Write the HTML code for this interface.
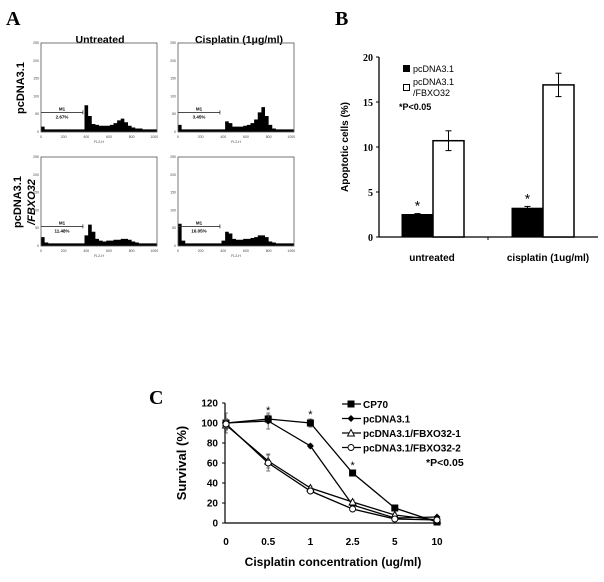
<!DOCTYPE html>
<html><head><meta charset="utf-8"><style>
body{margin:0;background:#fff}
svg text{font-family:"Liberation Sans",sans-serif}
</style></head><body>
<svg width="604" height="577" viewBox="0 0 604 577" xmlns="http://www.w3.org/2000/svg">
<g id="panelA">
<text x="6" y="25" font-family="Liberation Serif" font-weight="bold" font-size="20" style="font-family:'Liberation Serif',serif">A</text>
<text x="100" y="43" text-anchor="middle" font-weight="bold" font-size="10.5">Untreated</text>
<text x="239" y="43" text-anchor="middle" font-weight="bold" font-size="10.5">Cisplatin (1μg/ml)</text>
<text transform="translate(24,88) rotate(-90)" text-anchor="middle" font-weight="bold" font-size="11">pcDNA3.1</text>
<text transform="translate(21,202) rotate(-90)" text-anchor="middle" font-weight="bold" font-size="11">pcDNA3.1</text>
<text transform="translate(35,202) rotate(-90)" text-anchor="middle" font-weight="bold" font-style="italic" font-size="11">/FBXO32</text>
</g>
<g id="panelB"></g>
<g id="panelC"></g>
</svg>
<script>
// ---- Panel A data (histogram counts per 32-channel bin, % of axis height) ----
const histTL = [6,3,3,3,3,3,3,3,3,3,3,3,30,18,9,8,7,7,7,8,10,13,15,11,7,5,4,4,3,3,3,3];
const histTR = [8,3,3,3,3,3,3,3,3,3,3,3,3,12,10,6,6,6,7,8,10,14,22,28,18,8,4,3,3,3,3,3];
const histBL = [10,4,3,3,3,3,3,3,3,3,3,3,12,24,16,8,6,5,6,6,7,7,8,8,7,5,4,3,3,3,3,3];
const histBR = [25,6,3,3,3,3,3,3,3,3,3,3,6,16,14,8,7,7,8,8,9,10,12,12,10,5,4,3,3,3,3,3];
const histPct = ["2.67%","3.45%","11.48%","16.05%"];
const histAxisTicks = [0,200,400,600,800,1000];
const histYTicks = [0,50,100,150,200,250];
const m1End = 370;

// ---- Panel B data ----
const bCategories = ["untreated","cisplatin (1ug/ml)"];
const bControl = [2.5,3.2];
const bControlErr = [0.1,0.2];
const bFbxo = [10.7,16.9];
const bFbxoErr = [1.1,1.3];
const bTicks = [0,5,10,15,20];

// ---- Panel C data ----
const cCategories = ["0","0.5","1","2.5","5","10"];
const cCP70 = [100,104,100,50,15,1];
const cPcDNA = [100,102,77,18,5,6];
const cFbxo1 = [98,62,35,21,8,3];
const cFbxo2 = [99,60,32,14,4,3];
const cErr = [[4,4,4,3,2,1],[10,8,2,3,2,1],[5,7,2,2,2,1],[5,8,2,2,1,1]];
const cTicks = [0,20,40,60,80,100,120];
const cStars = [1,2,3];

const NS="http://www.w3.org/2000/svg";
function mk(parent,tag,attrs,text){const e=document.createElementNS(NS,tag);for(const k in attrs)e.setAttribute(k,attrs[k]);if(text!==undefined)e.textContent=text;parent.appendChild(e);return e;}

// Panel A histograms
const A=document.getElementById('panelA');
const boxes=[[41,43,histTL],[178,43,histTR],[41,157,histBL],[178,157,histBR]];
boxes.forEach((b,i)=>{
  const [x0,y0,h]=b, w=116, ht=89;
  const g=mk(A,'g',{});
  
  
  const xs=c=>x0+c/1024*w, ys=v=>y0+ht-v/100*ht;
  let d=`M${xs(0)},${ys(0)}`;
  h.forEach((v,k)=>{d+=` L${xs(k*32)},${ys(v)} L${xs(k*32+32)},${ys(v)}`;});
  d+=` L${xs(1024)},${ys(0)} Z`;
  const p=mk(g,'path',{d:d,fill:'#000'});
  
  
  mk(g,'rect',{x:x0,y:y0,width:w,height:ht,fill:'none',stroke:'#555','stroke-width':0.8});
  histAxisTicks.forEach(t=>{mk(g,'text',{x:xs(t),y:y0+ht+6,'font-size':3.5,'text-anchor':'middle',fill:'#444'},String(t));});
  histYTicks.forEach(t=>{mk(g,'text',{x:x0-2,y:y0+ht-t/250*ht+1,'font-size':3.5,'text-anchor':'end',fill:'#444'},String(t));});
  mk(g,'text',{x:xs(512),y:y0+ht+11,'font-size':3.5,'text-anchor':'middle',fill:'#444'},'FL2-H');
  const my=y0+ht*0.78;
  mk(g,'line',{x1:x0,x2:xs(m1End),y1:my,y2:my,stroke:'#333','stroke-width':0.8});
  mk(g,'line',{x1:xs(m1End),x2:xs(m1End),y1:my-2,y2:my+2,stroke:'#333','stroke-width':0.8});
  mk(g,'text',{x:x0+21,y:my-2,'font-size':4.5,'font-weight':'bold','text-anchor':'middle'},'M1');
  const t2=mk(g,'text',{x:x0+21,y:my+6,'font-size':4.5,'font-weight':'bold','text-anchor':'middle'},histPct[i]);
  
  
});

// Panel B
const B=document.getElementById('panelB');
mk(B,'text',{x:335,y:25,'font-size':20,'font-weight':'bold',style:"font-family:'Liberation Serif',serif"},'B');
const bx0=379,by0=237,bTop=57,bMax=20;
const bY=v=>by0-(by0-bTop)*v/bMax;
mk(B,'line',{x1:bx0,x2:bx0,y1:bTop,y2:by0,stroke:'#000','stroke-width':1.3});
mk(B,'line',{x1:bx0,x2:598,y1:by0,y2:by0,stroke:'#000','stroke-width':1.3});
mk(B,'line',{x1:488,x2:488,y1:by0,y2:by0+3,stroke:'#000'});
bTicks.forEach(t=>{
  mk(B,'line',{x1:bx0-3,x2:bx0,y1:bY(t),y2:bY(t),stroke:'#000'});
  const e=mk(B,'text',{x:bx0-6,y:bY(t)+4,'font-size':10,'font-weight':'bold','text-anchor':'end',style:"font-family:'Liberation Serif',serif"},String(t));
  
  
});
const bCenters=[433,543],bw=31;
bCategories.forEach((c,i)=>{
  const cx=bCenters[i];
  const r1=mk(B,'rect',{x:cx-bw,y:bY(bControl[i]),width:bw,height:by0-bY(bControl[i]),fill:'#000',stroke:'#000'});
  
  
  const r2=mk(B,'rect',{x:cx,y:bY(bFbxo[i]),width:bw,height:by0-bY(bFbxo[i]),fill:'#fff',stroke:'#000','stroke-width':1.5});
  
  
  [[cx-bw/2,bControl[i],bControlErr[i]],[cx+bw/2,bFbxo[i],bFbxoErr[i]]].forEach(([ex,v,er])=>{
    mk(B,'line',{x1:ex,x2:ex,y1:bY(v+er),y2:bY(v-er),stroke:'#000'});
    mk(B,'line',{x1:ex-3,x2:ex+3,y1:bY(v+er),y2:bY(v+er),stroke:'#000'});
    mk(B,'line',{x1:ex-3,x2:ex+3,y1:bY(v-er),y2:bY(v-er),stroke:'#000'});
  });
  mk(B,'text',{x:cx-bw/2,y:bY(bControl[i]+bControlErr[i])-3,'font-size':14,'text-anchor':'middle'},'*');
  const l=mk(B,'text',{x:cx+(i?5:-1),y:261,'font-size':10,'font-weight':'bold','text-anchor':'middle'},c);
  
  
});
mk(B,'text',{transform:'translate(348,147) rotate(-90)','font-size':10,'font-weight':'bold','text-anchor':'middle'},'Apoptotic cells (%)');
mk(B,'rect',{x:403,y:65,width:7,height:7,fill:'#000'});
mk(B,'text',{x:413,y:72,'font-size':9},'pcDNA3.1');
mk(B,'rect',{x:403.5,y:84.5,width:6,height:6,fill:'#fff',stroke:'#000'});
mk(B,'text',{x:413,y:85,'font-size':9},'pcDNA3.1');
mk(B,'text',{x:413,y:96,'font-size':9},'/FBXO32');
mk(B,'text',{x:399,y:110,'font-size':9,'font-weight':'bold'},'*P<0.05');

// Panel C
const C=document.getElementById('panelC');
mk(C,'text',{x:149,y:404,'font-size':20,'font-weight':'bold',style:"font-family:'Liberation Serif',serif"},'C');
const cx0=226,cStep=42.2,cy0=523,cTopY=403,cMax=120;
const cX=i=>cx0+i*cStep, cY=v=>cy0-(cy0-cTopY)*v/cMax;
mk(C,'line',{x1:cx0-1,x2:cx0-1,y1:cTopY,y2:cy0,stroke:'#000','stroke-width':1.2});
mk(C,'line',{x1:cx0-1,x2:cX(5),y1:cy0,y2:cy0,stroke:'#000','stroke-width':1.2});
cTicks.forEach(t=>{
  mk(C,'line',{x1:cx0-4,x2:cx0-1,y1:cY(t),y2:cY(t),stroke:'#000'});
  const e=mk(C,'text',{x:cx0-8,y:cY(t)+3.5,'font-size':10,'font-weight':'bold','text-anchor':'end'},String(t));
  
  
});
cCategories.forEach((c,i)=>{
  const e=mk(C,'text',{x:cX(i),y:545,'font-size':10,'font-weight':'bold','text-anchor':'middle'},c);
  
  
});
mk(C,'text',{x:333,y:566,'font-size':12,'font-weight':'bold','text-anchor':'middle'},'Cisplatin concentration (ug/ml)');
mk(C,'text',{transform:'translate(186,463) rotate(-90)','font-size':13,'font-weight':'bold','text-anchor':'middle'},'Survival (%)');
const series=[[cCP70,'square','CP70'],[cPcDNA,'diamond','pcDNA3.1'],[cFbxo1,'triangle','pcDNA3.1/FBXO32-1'],[cFbxo2,'circle','pcDNA3.1/FBXO32-2']];
function marker(g,t,x,y){
  if(t==='square')mk(g,'rect',{x:x-3.5,y:y-3.5,width:7,height:7,fill:'#000'});
  else if(t==='diamond')mk(g,'path',{d:`M${x},${y-3.5}L${x+3.5},${y}L${x},${y+3.5}L${x-3.5},${y}Z`,fill:'#000'});
  else if(t==='triangle')mk(g,'path',{d:`M${x},${y-3.5}L${x+3.5},${y+3}L${x-3.5},${y+3}Z`,fill:'#fff',stroke:'#000','stroke-width':0.9});
  else mk(g,'circle',{cx:x,cy:y,r:3,fill:'#fff',stroke:'#000','stroke-width':0.9});
}
series.forEach(([vals,t,name],s)=>{
  const g=mk(C,'g',{});
  
  
  vals.forEach((v,i)=>{
    const er=cErr[s][i];
    mk(g,'line',{x1:cX(i),x2:cX(i),y1:cY(v+er),y2:cY(v-er),stroke:'#555','stroke-width':0.8});
    mk(g,'line',{x1:cX(i)-2,x2:cX(i)+2,y1:cY(v+er),y2:cY(v+er),stroke:'#555','stroke-width':0.8});
    mk(g,'line',{x1:cX(i)-2,x2:cX(i)+2,y1:cY(v-er),y2:cY(v-er),stroke:'#555','stroke-width':0.8});
  });
  mk(g,'polyline',{points:vals.map((v,i)=>cX(i)+','+cY(v)).join(' '),fill:'none',stroke:'#000','stroke-width':1.3});
  vals.forEach((v,i)=>marker(g,t,cX(i),cY(v)));
  const ly=404+s*14.5;
  mk(g,'line',{x1:342,x2:361,y1:ly,y2:ly,stroke:'#000','stroke-width':1.3});
  marker(g,t,351,ly);
  mk(g,'text',{x:363,y:ly+4,'font-size':10,'font-weight':'bold'},name);
});
cStars.forEach(i=>{
  mk(C,'text',{x:cX(i),y:cY(cCP70[i]+cErr[0][i])-1,'font-size':11,'text-anchor':'middle'},'*');
});
mk(C,'text',{x:426,y:466,'font-size':10.5,'font-weight':'bold'},'*P<0.05');
</script>
</body></html>
